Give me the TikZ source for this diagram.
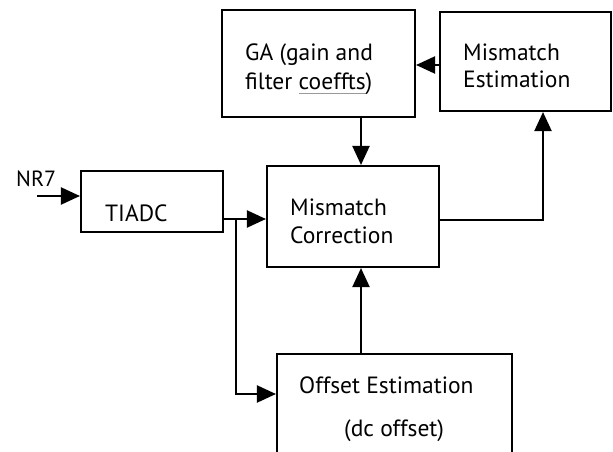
\documentclass[tikz,border=0pt]{standalone}
\usepackage{fontspec}
\setmainfont{PT Sans}
\usetikzlibrary{positioning, calc, arrows.meta}
\tikzstyle{Arrow} = [
    line width=2.1pt,
    -{Triangle[length=19pt, width=17pt]}
]
% grey squiggle-like underline
\newcommand{\greyul}[1]{\setbox0\hbox{#1}\rlap{\color{gray!80}\rule[-5pt]{\wd0}{1.3pt}}\box0}

\begin{document}
\begin{tikzpicture}[
x=1pt, y=-1pt,
block/.style={
    draw,
    line width=2.1pt,
    rectangle,
    inner sep=0pt
    },
txt/.style={
    anchor=base west,
    inner sep=0pt,
    align=left,
    font=\fontsize{23.5}{28}\selectfont
    }
]
\useasboundingbox (0,0) rectangle (613,452);
\clip (0,0) rectangle (613,452);

\node [block, minimum width=193pt, minimum height=107pt] (ga) at (318.5,63.5) {};
\node [block, minimum width=171pt, minimum height=99pt] (me) at (525.5,61.5) {};
\node [block, minimum width=172pt, minimum height=101pt] (mc) at (353,216.5) {};
\node [block, minimum width=142pt, minimum height=61pt] (tiadc) at (152,201.5) {};
\node [block, minimum width=235pt, minimum height=110pt] (oe) at (394.5,409) {};

\node [txt] (ga1) at (245,61) {GA (gain and};
\node [txt] (ga2) at (245,89) {filter \greyul{coeffts})};
\node [txt] (me1) at (463,60) {Mismatch};
\node [txt] (me2) at (463,88) {Estimation};
\node [txt] (mc1) at (290,215) {Mismatch};
\node [txt] (mc2) at (290,243) {Correction};
\node [txt] (ti) at (105,221) {TIADC};
\node [txt] (oe1) at (299,393) {Offset Estimation};
\node [txt] (oe2) at (344,436) {(dc offset)};
\node [txt, font=\fontsize{22}{24}\selectfont] (nr) at (16,186) {NR7};

\coordinate (in) at (37,196);
\coordinate (split) at (236,219);
\coordinate (vx) at (361,0);
\coordinate (fb) at (543,220);
\coordinate (oin) at (236,394);
\coordinate (mein) at (0,65);

\draw[Arrow] (in) -- (in -| tiadc.west);
\draw[line width=2.1pt] (tiadc.east |- split) -- (split);
\draw[Arrow] (split) -- (split -| mc.west);
\draw[Arrow] (split) -- (oin) -- (oin -| oe.west);
\draw[Arrow] (ga.south -| vx) -- (mc.north -| vx);
\draw[Arrow] (oe.north -| vx) -- (mc.south -| vx);
\draw[Arrow] (mc.east |- fb) -- (fb) -- (me.south -| fb);
\draw[Arrow] (me.west |- mein) -- (ga.east |- mein);

\end{tikzpicture}
\end{document}
